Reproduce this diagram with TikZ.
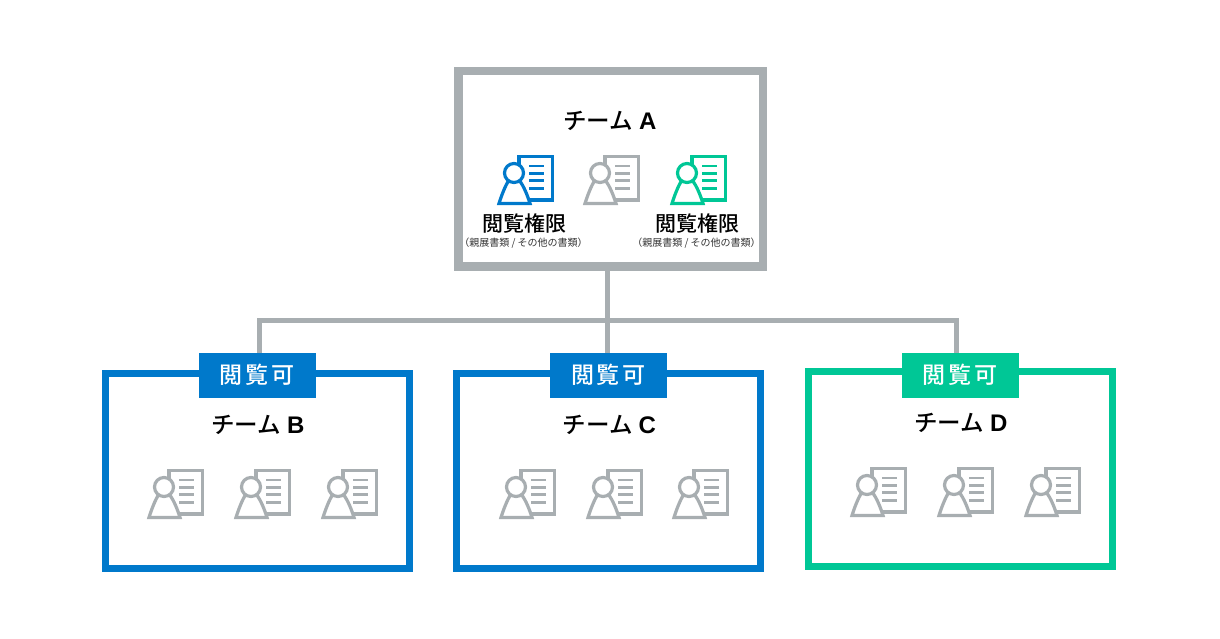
\documentclass[tikz,border=0pt]{standalone}
\usepackage{fontspec}
\newfontfamily\cjk{Noto Sans CJK JP}
\newfontfamily\cjkm{Noto Sans CJK JP Medium}
\newfontfamily\lat{Liberation Sans}
\definecolor{tgrey}{HTML}{A8AEB1}
\definecolor{tblue}{HTML}{0079CB}
\definecolor{tgreen}{HTML}{00C796}
\newcommand{\ttl}[1]{\cjkm\fontsize{23.5}{23.5}\selectfont チーム\hspace{6pt}{\lat\bfseries\fontsize{24}{24}\selectfont #1}}
\tikzset{
  x=1pt,y=-1pt,
  teambox/.style={draw=#1,line width=7pt,fill=white,minimum width=304pt,minimum height=195pt,anchor=north west,inner sep=0pt,outer sep=0pt,line join=miter},
  badge/.style={fill=#1,text=white,minimum width=117pt,minimum height=45pt,inner sep=0pt,outer sep=0pt,font=\cjkm\fontsize{23}{23}\selectfont},
  title/.style={inner sep=0pt,text=black},
  perm/.style={font=\cjkm\fontsize{21}{21}\selectfont,inner sep=0pt,text=black},
  permsub/.style={font=\cjk\fontsize{10}{10}\selectfont,inner sep=0pt,text=black!80},
  conn/.style={draw=tgrey,line width=5pt},
  pics/usericon/.style={code={
    \draw[#1,line width=3.2pt,line join=miter]
      (5,-8) -- (5,-16.5) -- (38.5,-16.5) -- (38.5,27) -- (15,27);
    \foreach \yy in {-7,0.3,7.7,15.3}{\draw[#1,line width=2.8pt] (15,\yy) -- (30,\yy);}
    \draw[#1,line width=3.2pt,line join=miter,fill=white]
      (-5,7) .. controls (-9,13) and (-13,24) .. (-15,30.5) -- (16,30.5)
      .. controls (14,24) and (10,13) .. (5,7);
    \draw[#1,line width=3.2pt,fill=white] (0,0) circle (9.5);
  }}
}
\begin{document}
\begin{tikzpicture}
\useasboundingbox (0,0) rectangle (1220,639);
\fill[white] (0,0) rectangle (1220,639);
% boxes
\node[teambox=tgrey,line width=8.5pt,minimum width=304.5pt,minimum height=195.5pt] (boxa) at (458.5,71) {};
\node[teambox=tblue] (boxb) at (105.3,373.6) {};
\node[teambox=tblue] (boxc) at (456.7,373.6) {};
\node[teambox=tgreen] (boxd) at (808,371.4) {};
% badges
\node[badge=tblue] (badgeb) at (257,375) {閲\hspace{3pt}覧\hspace{3pt}可};
\node[badge=tblue] (badgec) at (608.5,375) {閲\hspace{3pt}覧\hspace{3pt}可};
\node[badge=tgreen] (badged) at (960,375) {閲\hspace{3pt}覧\hspace{3pt}可};
% connectors
\coordinate (trunk) at (607.5,320);
\draw[conn] (boxa.south -| trunk) -- (badgec.north -| trunk);
\draw[conn] (badgeb.north -| 259,0) -- (259,320) -- (trunk);
\draw[conn] (badged.north -| 956,0) -- (956,320) -- (trunk);
% titles
\node[title] (ta) at (610,121) {\ttl{A}};
\node[title] (tb) at (258,425) {\ttl{B}};
\node[title] (tc) at (609.5,425) {\ttl{C}};
\node[title] (td) at (961,423) {\ttl{D}};
% team A contents
\pic at (514,173) {usericon=tblue};
\pic at (600,173) {usericon=tgrey};
\pic at (687,173) {usericon=tgreen};
\node[perm] (p1) at (524,223) {閲覧権限};
\node[perm] (p2) at (697,223) {閲覧権限};
\node[permsub] (s1) at (523.5,243) {（親展書類 / その他の書類）};
\node[permsub] (s2) at (696.5,243) {（親展書類 / その他の書類）};
% team icons
\foreach \hx in {164,251,338}{\pic at (\hx,487) {usericon=tgrey};}
\foreach \hx in {516,603,689}{\pic at (\hx,487) {usericon=tgrey};}
\foreach \hx in {867,954,1041}{\pic at (\hx,485) {usericon=tgrey};}
\end{tikzpicture}
\end{document}
